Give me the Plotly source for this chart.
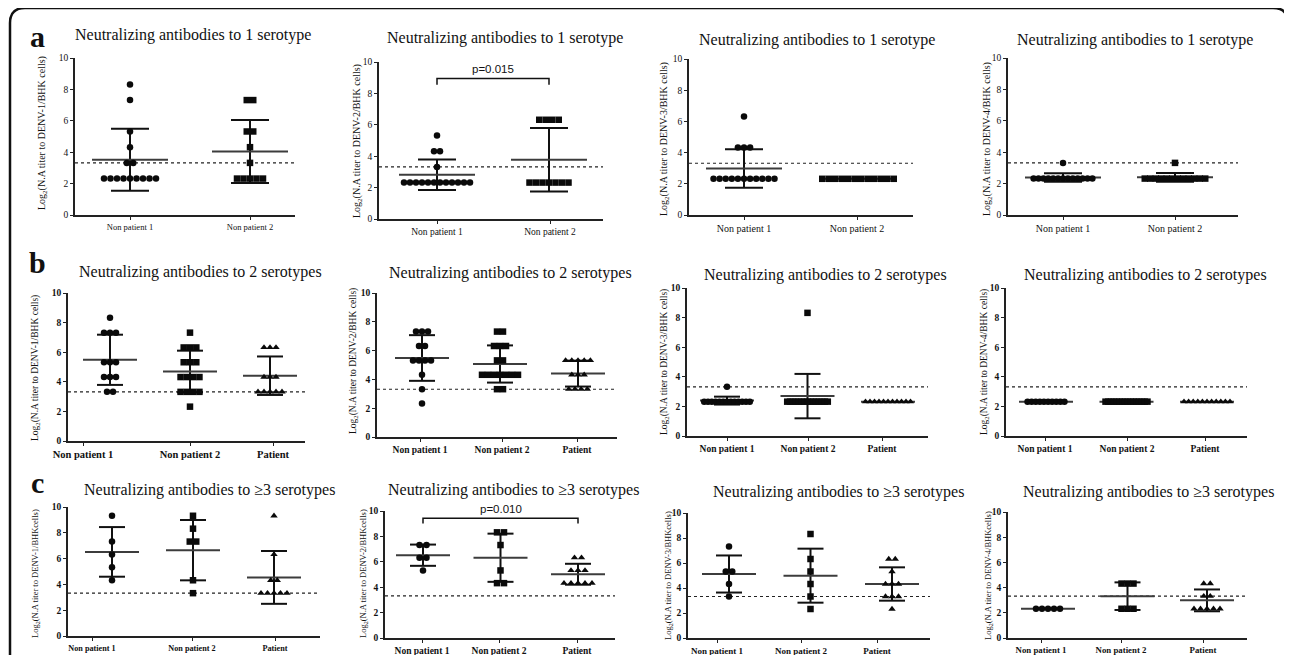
import numpy as np
import plotly.graph_objects as go
from collections import Counter

W, H = 1292, 655
OFF = 8  # page body margin compensation (pixels)
SERIF = "Liberation Serif, Times New Roman, serif"
SANS = "Liberation Sans, Arial, sans-serif"

# ---------------- data (log2 neutralizing titers) ----------------
row_titles = ["Neutralizing antibodies to 1 serotype",
              "Neutralizing antibodies to 2 serotypes",
              "Neutralizing antibodies to \u22653 serotypes"]
row_letters = ["a", "b", "c"]
groups_two = ["Non patient 1", "Non patient 2"]
groups_three = ["Non patient 1", "Non patient 2", "Patient"]
serotypes = ["DENV-1", "DENV-2", "DENV-3", "DENV-4"]
y_ticks = [0, 2, 4, 6, 8, 10]
cutoff = 3.32

# row a : antibodies to 1 serotype
a1_np1 = [8.32, 7.32, 5.32, 4.32, 3.32, 3.32, 2.32, 2.32, 2.32, 2.32, 2.32, 2.32, 2.32, 2.32, 2.32]
a1_np2 = [7.32, 7.32, 5.32, 5.32, 4.32, 3.32, 2.32, 2.32, 2.32, 2.32, 2.32]
a2_np1 = [5.32, 4.32, 4.32, 3.32, 2.32, 2.32, 2.32, 2.32, 2.32, 2.32, 2.32, 2.32, 2.32, 2.32, 2.32, 2.32]
a2_np2 = [6.32, 6.32, 6.32, 6.32, 2.32, 2.32, 2.32, 2.32, 2.32, 2.32, 2.32]
a3_np1 = [6.32, 4.32, 4.32, 4.32, 2.32, 2.32, 2.32, 2.32, 2.32, 2.32, 2.32, 2.32, 2.32, 2.32, 2.32]
a3_np2 = [2.32, 2.32, 2.32, 2.32, 2.32, 2.32, 2.32, 2.32, 2.32, 2.32, 2.32, 2.32]
a4_np1 = [3.32, 2.32, 2.32, 2.32, 2.32, 2.32, 2.32, 2.32, 2.32, 2.32, 2.32, 2.32, 2.32, 2.32]
a4_np2 = [3.32, 2.32, 2.32, 2.32, 2.32, 2.32, 2.32, 2.32, 2.32, 2.32, 2.32, 2.32, 2.32]

# row b : antibodies to 2 serotypes
b1_np1 = [8.32, 7.32, 7.32, 7.32, 5.32, 5.32, 5.32, 4.32, 4.32, 4.32, 3.32, 3.32]
b1_np2 = [7.32, 6.32, 6.32, 6.32, 5.32, 5.32, 5.32, 4.32, 4.32, 4.32, 4.32, 3.32, 3.32, 3.32, 3.32, 2.32]
b1_pat = [6.32, 6.32, 6.32, 4.32, 4.32, 4.32, 3.32, 3.32, 3.32, 3.32, 3.32]
b2_np1 = [7.32, 7.32, 7.32, 6.32, 6.32, 5.32, 5.32, 5.32, 5.32, 4.32, 3.32, 2.32]
b2_np2 = [7.32, 7.32, 6.32, 6.32, 6.32, 5.32, 5.32, 4.32, 4.32, 4.32, 4.32, 4.32, 4.32, 4.32, 3.32, 3.32]
b2_pat = [5.32, 5.32, 5.32, 5.32, 5.32, 4.32, 4.32, 4.32, 3.32, 3.32, 3.32, 3.32]
b3_np1 = [3.32, 2.32, 2.32, 2.32, 2.32, 2.32, 2.32, 2.32, 2.32, 2.32, 2.32, 2.32, 2.32, 2.32]
b3_np2 = [8.32, 2.32, 2.32, 2.32, 2.32, 2.32, 2.32, 2.32, 2.32, 2.32, 2.32, 2.32, 2.32, 2.32, 2.32, 2.32]
b3_pat = [2.32, 2.32, 2.32, 2.32, 2.32, 2.32, 2.32, 2.32, 2.32, 2.32, 2.32]
b4_np1 = [2.32, 2.32, 2.32, 2.32, 2.32, 2.32, 2.32, 2.32, 2.32, 2.32]
b4_np2 = [2.32, 2.32, 2.32, 2.32, 2.32, 2.32, 2.32, 2.32, 2.32, 2.32, 2.32, 2.32, 2.32, 2.32, 2.32, 2.32]
b4_pat = [2.32, 2.32, 2.32, 2.32, 2.32, 2.32, 2.32, 2.32, 2.32, 2.32, 2.32]

# row c : antibodies to >=3 serotypes
c1_np1 = [9.32, 7.32, 6.32, 5.32, 4.32]
c1_np2 = [9.32, 8.32, 7.32, 7.32, 4.32, 3.32]
c1_pat = [9.32, 6.32, 4.32, 4.32, 3.32, 3.32, 3.32, 3.32, 3.32]
c2_np1 = [7.32, 7.32, 6.32, 6.32, 5.32]
c2_np2 = [8.32, 8.32, 7.32, 5.32, 4.32, 4.32]
c2_pat = [6.32, 6.32, 5.32, 5.32, 5.32, 4.32, 4.32, 4.32, 4.32, 4.32]
c3_np1 = [7.32, 5.32, 5.32, 4.32, 3.32]
c3_np2 = [8.32, 6.32, 5.32, 4.32, 3.32, 2.32]
c3_pat = [6.32, 6.32, 5.32, 4.32, 4.32, 4.32, 3.32, 3.32, 3.32, 2.32]
c4_np1 = [2.32, 2.32, 2.32, 2.32, 2.32]
c4_np2 = [4.32, 4.32, 4.32, 2.32, 2.32, 2.32]
c4_pat = [4.32, 4.32, 3.32, 3.32, 2.32, 2.32, 2.32, 2.32, 2.32]

panel_data = [
    [[a1_np1, a1_np2], [a2_np1, a2_np2], [a3_np1, a3_np2], [a4_np1, a4_np2]],
    [[b1_np1, b1_np2, b1_pat], [b2_np1, b2_np2, b2_pat], [b3_np1, b3_np2, b3_pat], [b4_np1, b4_np2, b4_pat]],
    [[c1_np1, c1_np2, c1_pat], [c2_np1, c2_np2, c2_pat], [c3_np1, c3_np2, c3_pat], [c4_np1, c4_np2, c4_pat]],
]

# significance brackets: (row, col, group_from, group_to, label)
p_brackets = [(0, 1, 0, 1, "p=0.015"), (2, 1, 0, 2, "p=0.010")]

# ---------------- layout geometry (pixels) ----------------
# (axis_left, axis_right, y10_px, y0_px, first_cat_px, last_cat_px, label_px)
geom = [
    [(75, 295, 58, 215, 130, 250, [130, 250]),
     (379, 603, 62, 219, 437, 549, [437, 550]),
     (689, 913, 59, 215, 744, 858, [744, 857]),
     (1008, 1238, 58, 215, 1063, 1175, [1063, 1175])],
    [(68, 305, 293, 441, 110, 270, [83, 190, 273]),
     (377, 617, 293, 437, 422, 578, [420, 502, 577]),
     (687, 928, 288, 436, 727, 888, [727, 808, 882]),
     (1006, 1247, 288, 436, 1046, 1207, [1045, 1127, 1205])],
    [(68, 320, 507, 636, 112, 274, [92, 192, 275]),
     (385, 615, 511, 638, 423, 578, [422, 499, 577]),
     (688, 930, 513, 638, 729, 892, [717, 801, 877]),
     (1008, 1247, 512, 638, 1048, 1207, [1041, 1121, 1203])],
]
spacing_px = [
    [[6.5, 6.5], [6.0, 6.5], [6.1, 6.5], [4.9, 5.5]],
    [[6.0, 6.3, 6.0], [6.0, 6.0, 6.2], [3.8, 2.9, 4.5], [4.1, 2.8, 4.6]],
    [[6.5, 6.5, 6.5], [7.0, 7.0, 7.0], [6.5, 6.5, 6.5], [6.0, 6.0, 6.5]],
]
xtick_size = [[8.5, 9.5, 10, 10], [10.5, 9.5, 9.5, 9.5], [8.2, 9.5, 9, 8.8]]
title_pos = [[(193, 35), (505, 38), (817, 40), (1135, 40)],
             [(200, 272), (510, 273), (825, 275), (1145, 275)],
             [(209, 490), (513, 490), (838, 492), (1148, 492)]]
ytitle_pos = [[(43, 133), (357, 141), (665, 139), (988, 139)],
              [(35, 368), (353, 361), (665, 362), (985, 362)],
              [(35, 574), (363, 574), (668, 576), (988, 576)]]
ytitle_size = [10, 9.5, 8.5]
letter_pos = [(37, 36), (37, 262), (37, 482)]
mean_half_px = [38, 27, 27]
cap_half_px = [19, 13, 13]
marker_symbols = ["circle", "square", "triangle-up"]
marker_size = [6.5, 6.5, 6.5]


def px(x):
    return (x - OFF) / W


def py(y):
    return 1 - (y - OFF) / H


def spread(values, step):
    counts = Counter(values)
    seen = Counter()
    out = []
    for v in values:
        k = counts[v]
        i = seen[v]
        seen[v] += 1
        out.append((i - (k - 1) / 2) * step)
    return out


fig = go.Figure()
annotations = []
shapes = []

for r in range(3):
    bold = r > 0
    groups = groups_two if r == 0 else groups_three
    for c in range(4):
        idx = r * 4 + c + 1
        xa = "x" if idx == 1 else f"x{idx}"
        ya = "y" if idx == 1 else f"y{idx}"
        xl, xr, yt, yb, f0, f1, lab = geom[r][c]
        ng = len(groups)
        ppu = (f1 - f0) / (ng - 1)
        xrange = [(xl - f0) / ppu, (xr - f0) / ppu]
        data = panel_data[r][c]

        # cutoff dotted line
        shapes.append(dict(type="line", xref=f"{xa} domain", yref=ya, x0=0, x1=1,
                           y0=cutoff, y1=cutoff, layer="below",
                           line=dict(color="#222", width=1.1, dash="dot")))

        mh = mean_half_px[r] / ppu
        ch = cap_half_px[r] / ppu
        mx, my, sx, sy = [], [], [], []
        for g, vals in enumerate(data):
            m = float(np.mean(vals))
            s = float(np.std(vals, ddof=1)) if len(vals) > 1 else 0.0
            mx += [g - mh, g + mh, None]
            my += [m, m, None]
            if s > 0:
                sx += [g, g, None, g - ch, g + ch, None, g - ch, g + ch, None]
                sy += [m - s, m + s, None, m + s, m + s, None, m - s, m - s, None]
        fig.add_trace(go.Scatter(x=sx, y=sy, mode="lines", xaxis=xa, yaxis=ya,
                                 line=dict(color="#111", width=2), hoverinfo="skip",
                                 showlegend=False))
        fig.add_trace(go.Scatter(x=mx, y=my, mode="lines", xaxis=xa, yaxis=ya,
                                 line=dict(color="#3c3c3c", width=2), hoverinfo="skip",
                                 showlegend=False))
        for g, vals in enumerate(data):
            offs = spread(vals, spacing_px[r][c][g] / ppu)
            fig.add_trace(go.Scatter(
                x=[g + o for o in offs], y=vals, mode="markers", xaxis=xa, yaxis=ya,
                marker=dict(symbol=marker_symbols[g], size=marker_size[r], color="#0a0a0a",
                            line=dict(width=0)),
                showlegend=False, name=groups[g]))

        tickvals = [(p - f0) / ppu for p in lab]
        fig.layout[("xaxis" if idx == 1 else f"xaxis{idx}")] = dict(
            domain=[px(xl), px(xr)], range=xrange, anchor=ya, automargin=False,
            showline=True, linecolor="#222", linewidth=1.6, showgrid=False, zeroline=False,
            ticks="outside", ticklen=3, tickwidth=1.2, tickcolor="#222",
            tickvals=tickvals, ticktext=groups,
            tickfont=dict(family=SERIF, size=xtick_size[r][c], color="#111",
                          weight="bold" if bold else "normal"),
            fixedrange=True)
        fig.layout[("yaxis" if idx == 1 else f"yaxis{idx}")] = dict(
            domain=[py(yb), py(yt)], range=[0, 10], anchor=xa, automargin=False,
            showline=True, linecolor="#222", linewidth=1.6, showgrid=False, zeroline=False,
            ticks="outside", ticklen=3, tickwidth=1.2, tickcolor="#222",
            tickvals=y_ticks, ticktext=[str(t) for t in y_ticks],
            tickfont=dict(family=SERIF, size=9.5, color="#111",
                          weight="bold" if bold else "normal"),
            fixedrange=True)

        # panel title
        tx, ty = title_pos[r][c]
        annotations.append(dict(text=row_titles[r], x=px(tx), y=py(ty), xref="paper", yref="paper",
                                xanchor="center", yanchor="middle", showarrow=False,
                                font=dict(family=SERIF, size=16, color="#111")))
        # y-axis title
        cellw = "BHKcells" if r == 2 else "BHK cells"
        yt_text = f"Log<sub>2</sub>(N.A titer to {serotypes[c]}/{cellw})"
        yx, yy = ytitle_pos[r][c]
        annotations.append(dict(text=yt_text, x=px(yx), y=py(yy), xref="paper", yref="paper",
                                xanchor="center", yanchor="middle", showarrow=False, textangle=-90,
                                font=dict(family=SERIF, size=ytitle_size[r], color="#111")))

    lx, ly = letter_pos[r]
    annotations.append(dict(text=f"<b>{row_letters[r]}</b>", x=px(lx), y=py(ly), xref="paper",
                            yref="paper", xanchor="center", yanchor="middle", showarrow=False,
                            font=dict(family=SERIF, size=30, color="#111")))

# significance brackets
for (r, c, g0, g1, label) in p_brackets:
    idx = r * 4 + c + 1
    xa = "x" if idx == 1 else f"x{idx}"
    ya = "y" if idx == 1 else f"y{idx}"
    ytop = 8.95 if r == 0 else 9.42
    yleg = ytop - 0.4
    fig.add_trace(go.Scatter(x=[g0, g0, g1, g1], y=[yleg, ytop, ytop, yleg], mode="lines",
                             xaxis=xa, yaxis=ya, line=dict(color="#111", width=1.5),
                             hoverinfo="skip", showlegend=False))
    annotations.append(dict(text=label, x=(g0 + g1) / 2, y=ytop + 0.12, xref=xa, yref=ya,
                            xanchor="center", yanchor="bottom", showarrow=False,
                            font=dict(family=SANS, size=11.5, color="#111")))

# outer rounded frame
fx0, fx1, fy0, rad = 10, 1288, 8, 15
path = (f"M {px(fx0)},{py(H + 10)} L {px(fx0)},{py(fy0 + rad)} "
        f"Q {px(fx0)},{py(fy0)} {px(fx0 + rad)},{py(fy0)} "
        f"L {px(fx1 - rad)},{py(fy0)} Q {px(fx1)},{py(fy0)} {px(fx1)},{py(fy0 + rad)} "
        f"L {px(fx1)},{py(H + 10)}")
shapes.append(dict(type="path", xref="paper", yref="paper", path=path,
                   line=dict(color="#111", width=2.5)))

fig.update_layout(width=W, height=H, margin=dict(l=0, r=0, t=0, b=0, pad=0),
                  autosize=False,
                  paper_bgcolor="white", plot_bgcolor="white",
                  annotations=annotations, shapes=shapes, showlegend=False)
fig.write_html("out.html")
